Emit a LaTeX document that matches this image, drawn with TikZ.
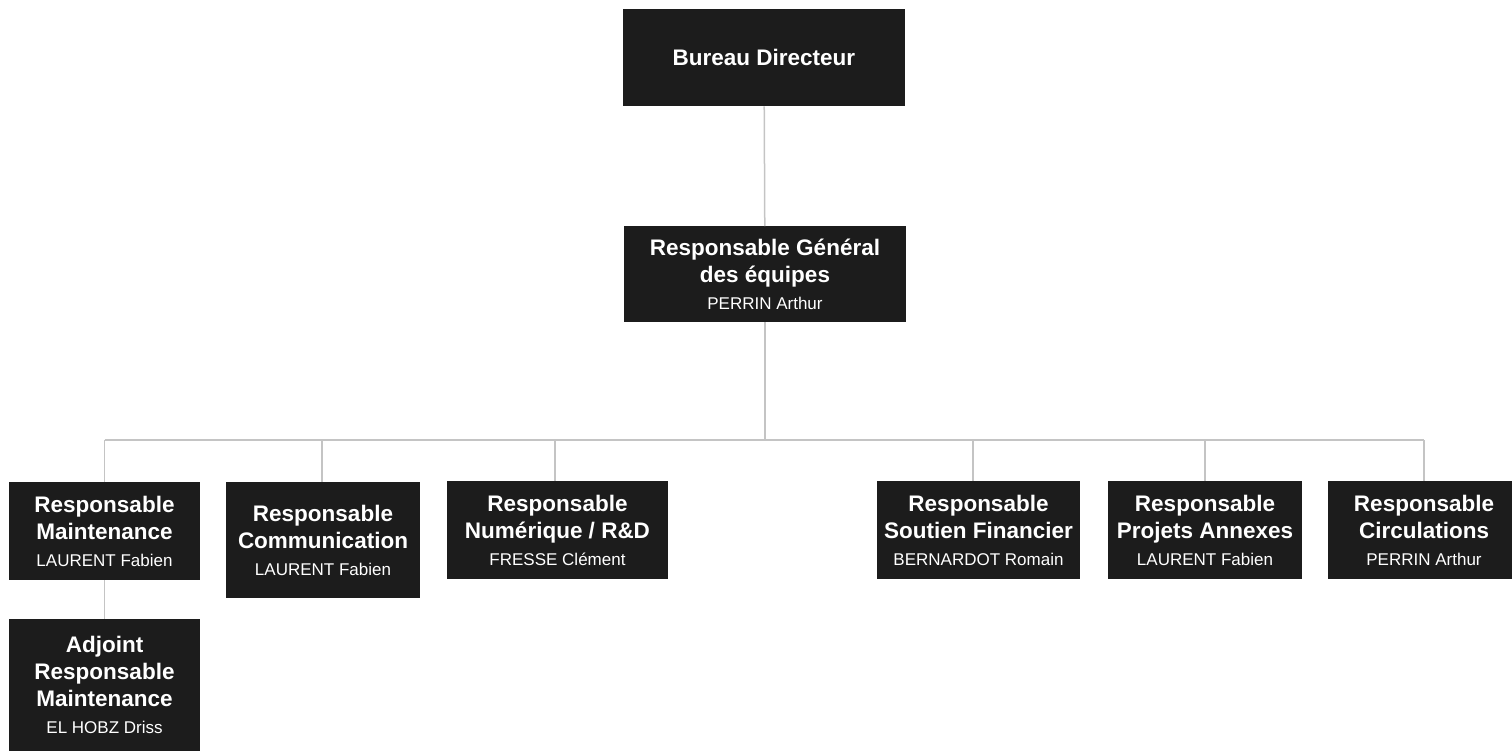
\documentclass[tikz,border=0pt]{standalone}
\usepackage{fontspec}
\setmainfont{Liberation Sans}
\usetikzlibrary{%
  calc,%
  positioning% wg. " of "
}
\definecolor{boxfill}{HTML}{1C1C1C}
\definecolor{linkgray}{HTML}{C4C4C4}
\newcommand{\who}[1]{{\mdseries\fontsize{17}{22}\selectfont #1}}

\begin{document}
\begin{tikzpicture}[
    x=1pt,y=-1pt,
    unit/.style={rectangle,fill=boxfill,text=white,align=center,
        inner sep=0pt,anchor=north,minimum height=98pt,
        font=\bfseries\fontsize{22.5}{27}\selectfont},
    link/.style={draw=linkgray,line width=1.5pt}
  ]
    \useasboundingbox (0,0) rectangle (1512,750);

    \node (bureau)  [unit,minimum width=282pt,minimum height=97pt] at (764,9)
        {Bureau Directeur};
    \node (general) [unit,minimum width=282pt,minimum height=96pt] at (765,226)
        {Responsable Général\\des équipes\\\who{PERRIN Arthur}};

    \node (maint) [unit,minimum width=191pt] at (104.5,482)
        {Responsable\\Maintenance\\\who{LAURENT Fabien}};
    \node (comm)  [unit,minimum width=194pt,minimum height=116pt] at (323,482)
        {Responsable\\Communication\\\who{LAURENT Fabien}};
    \node (num)   [unit,minimum width=221pt] at (557.5,481)
        {Responsable\\Numérique / R\&D\\\who{FRESSE Clément}};
    \node (fin)   [unit,minimum width=203pt] at (978.5,481)
        {Responsable\\Soutien Financier\\\who{BERNARDOT Romain}};
    \node (proj)  [unit,minimum width=194pt] at (1205,481)
        {Responsable\\Projets Annexes\\\who{LAURENT Fabien}};
    \node (circ)  [unit,minimum width=192pt] at (1424,481)
        {Responsable\\Circulations\\\who{PERRIN Arthur}};
    \node (adj)   [unit,minimum width=191pt,minimum height=132pt] at (104.5,619)
        {Adjoint\\Responsable\\Maintenance\\\who{EL HOBZ Driss}};

    \coordinate (bus) at (765,440);

    \begin{scope}[every path/.style=link]
     \draw (bureau) -- (general);
     \draw (general) -- (bus);
     \draw (maint.north |- bus) -- (circ.north |- bus);
     \draw (maint.north) -- (maint.north |- bus);
     \draw (maint) -- (adj);
     \draw ([xshift=-1pt]comm.north) -- ([xshift=-1pt]comm.north |- bus);
     \draw ([xshift=-2.5pt]num.north) -- ([xshift=-2.5pt]num.north |- bus);
     \draw ([xshift=-5.5pt]fin.north) -- ([xshift=-5.5pt]fin.north |- bus);
     \draw (proj.north) -- (proj.north |- bus);
     \draw (circ.north) -- (circ.north |- bus);
    \end{scope}
\end{tikzpicture}
\end{document}
